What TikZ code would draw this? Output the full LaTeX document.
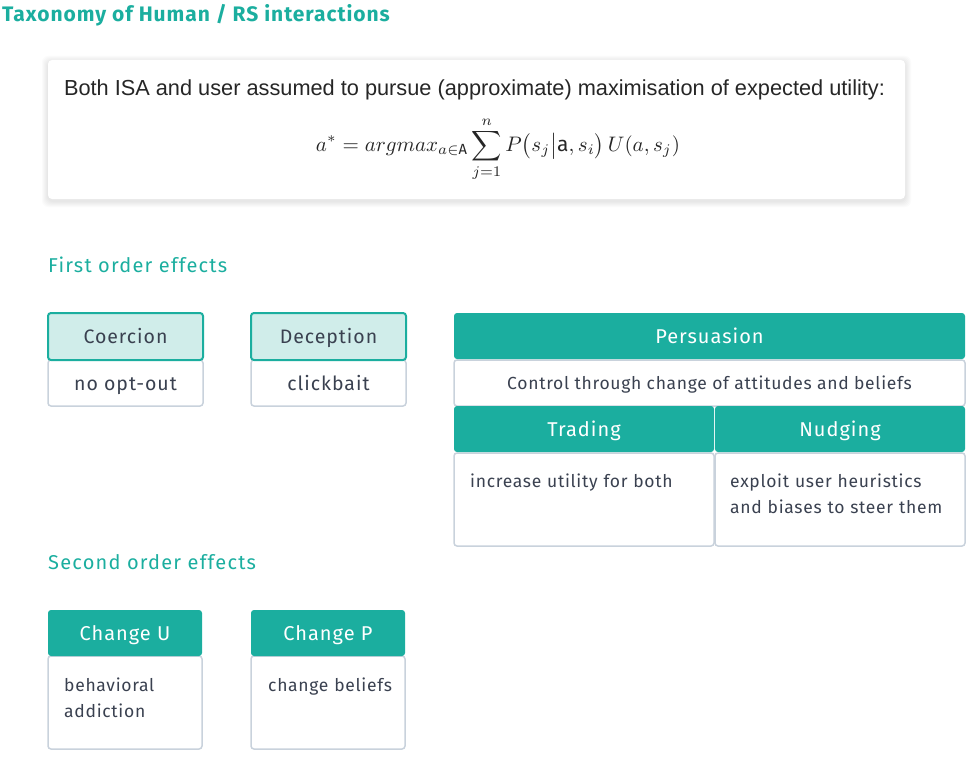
\documentclass[tikz,border=0pt]{standalone}
\usepackage{amsmath}
\usepackage{graphicx}
\usepackage{fontspec}
\setmainfont{Fira Sans}
\newfontfamily\arialf{Liberation Sans}
\definecolor{teal1}{HTML}{1BAE9F}
\definecolor{lteal}{HTML}{D0EDEA}
\definecolor{grayb}{HTML}{C9D2DC}
\definecolor{txt}{HTML}{3A4150}
\tikzset{
  hfont/.style={font=\fontsize{20}{24}\selectfont\addfontfeature{LetterSpace=5}},
  centred/.style={text height=16pt, text depth=2pt},
  centreds/.style={text height=14.5pt, text depth=1.5pt},
  hdr/.style={fill=teal1, rounded corners=3pt, text=white, inner sep=0pt, hfont, centred},
  lhdr/.style={fill=lteal, draw=teal1, line width=2pt, rounded corners=3pt, text=txt,
    inner sep=0pt, font=\fontsize{19.5}{24}\selectfont\addfontfeature{LetterSpace=5}, centred},
  bodybox/.style={fill=white, draw=grayb, line width=1.5pt, rounded corners=3pt,
    inner sep=0pt, text=txt},
  bigbody/.style={font=\fontsize{19.5}{24}\selectfont\addfontfeature{LetterSpace=5}, centred},
  smallbody/.style={font=\fontsize{17.5}{26}\selectfont\addfontfeature{LetterSpace=4}, centreds},
  bodytext/.style={anchor=base west, inner sep=0pt, text=txt, align=left,
    font=\fontsize{17.5}{26}\selectfont\addfontfeature{LetterSpace=4}},
  section/.style={anchor=base west, inner sep=0pt, text=teal1,
    font=\fontsize{20}{24}\selectfont\addfontfeature{LetterSpace=6}},
}
\begin{document}
\begin{tikzpicture}[x=1pt,y=-1pt]
\useasboundingbox (0,0) rectangle (972,757);
% title
\node[anchor=base west, inner sep=0pt, text=teal1, font=\bfseries\fontsize{21}{24}\selectfont\addfontfeature{LetterSpace=4.5}] (title) at (2,22) {Taxonomy of Human / RS interactions};
% card with soft shadow
\foreach \i in {1,...,6}{
  \fill[black, opacity=0.015, rounded corners=6pt] (48-\i,60-\i+2) rectangle (905+\i,199+\i+2);
}
\node[fill=white, rounded corners=4pt, minimum width=857pt, minimum height=139pt, inner sep=0pt] (card) at (476.5,129.5) {};
\node[anchor=base, inner sep=0pt, text=black!85] (utext) at (474.5,96)
  {\resizebox{821pt}{!}{\arialf\fontsize{19.5}{22}\selectfont Both ISA and user assumed to pursue (approximate) maximisation of expected utility:}};
\node[inner sep=0pt, text=black!85] (formula) at (498,149)
  {\resizebox{364pt}{!}{$\displaystyle a^{*}=argmax_{a\in\mathrm{A}}\sum_{j=1}^{n}P\bigl(s_j\big|\mathrm{a},s_i\bigr)\,U(a,s_j)$}};
% first order effects
\node[section] (first) at (48,272) {First order effects};
% Coercion
\node[bodybox, bigbody, minimum width=155pt, minimum height=46pt] (coerB) at (125.5,383) {no opt-out};
\node[lhdr, minimum width=155pt, minimum height=47pt] (coerH) at (125.5,336.5) {Coercion};
% Deception
\node[bodybox, bigbody, minimum width=155pt, minimum height=46pt] (decB) at (328.5,383) {clickbait};
\node[lhdr, minimum width=155pt, minimum height=47pt] (decH) at (328.5,336.5) {Deception};
% Persuasion
\node[bodybox, smallbody, minimum width=511pt, minimum height=46pt] (persB) at (709.5,383) {Control through change of attitudes and beliefs};
\node[hdr, minimum width=511pt, minimum height=46pt] (persH) at (709.5,336) {Persuasion};
\node[bodybox, minimum width=260pt, minimum height=93pt] (tradB) at (584,499.5) {};
\node[bodybox, minimum width=250pt, minimum height=93pt] (nudgB) at (840,499.5) {};
\node[hdr, minimum width=260pt, minimum height=46pt] (tradH) at (584,429) {Trading};
\node[hdr, minimum width=250pt, minimum height=46pt] (nudgH) at (840,429) {Nudging};
\node[bodytext, text width=240pt] (tradT) at (470,487) {increase utility for both};
\node[bodytext, text width=232pt] (nudgT) at (730,487) {exploit user heuristics\\and biases to steer them};
% second order effects
\node[section] (second) at (48,569) {Second order effects};
\node[bodybox, minimum width=154pt, minimum height=93pt] (chuB) at (125,702.5) {};
\node[hdr, minimum width=154pt, minimum height=46pt] (chuH) at (125,633) {Change U};
\node[bodytext, text width=135pt] (chuT) at (64,691) {behavioral\\addiction};
\node[bodybox, minimum width=154pt, minimum height=93pt] (chpB) at (328,702.5) {};
\node[hdr, minimum width=154pt, minimum height=46pt] (chpH) at (328,633) {Change P};
\node[bodytext, text width=135pt] (chpT) at (268,691) {change beliefs};
\end{tikzpicture}
\end{document}
